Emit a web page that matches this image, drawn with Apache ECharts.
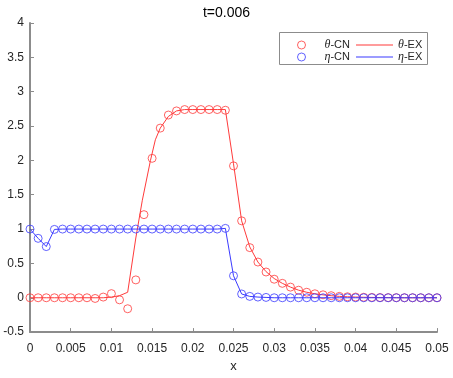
<!DOCTYPE html>
<html><head><meta charset="utf-8">
<script src="https://cdn.jsdelivr.net/npm/echarts@6/dist/echarts.min.js"></script>
<style>html,body{margin:0;padding:0;background:#fff}#c{width:453px;height:378px}</style>
</head><body><div id="c"></div>
<script>
var titleText = 't=0.006';
var xGrid = [0,0.001,0.002,0.003,0.004,0.005,0.006,0.007,0.008,0.009,0.010,0.011,0.012,0.013,0.014,0.015,0.016,0.017,0.018,0.019,0.020,0.021,0.022,0.023,0.024,0.025,0.026,0.027,0.028,0.029,0.030,0.031,0.032,0.033,0.034,0.035,0.036,0.037,0.038,0.039,0.040,0.041,0.042,0.043,0.044,0.045,0.046,0.047,0.048,0.049,0.050];
var thetaCN = [0,0,0,0,0,0,0,0,-0.01,0.01,0.06,-0.03,-0.16,0.26,1.21,2.03,2.47,2.66,2.72,2.74,2.74,2.74,2.74,2.74,2.73,1.92,1.12,0.73,0.52,0.375,0.27,0.21,0.155,0.11,0.08,0.058,0.043,0.03,0.02,0.014,0.01,0.007,0.005,0.003,0.002,0.001,0,0,0,0,0];
var etaCN = [1,0.865,0.745,0.995,1,1,1,1,1,1,1,1,1,1,1,1,1,1,1,1,1,1,1,1,1.01,0.32,0.055,0.02,0.01,0.005,0,0,0,0,0,0,0,0,0,0,0,0,0,0,0,0,0,0,0,0,0];
var thetaEXx = [0,0.001,0.002,0.003,0.004,0.005,0.006,0.007,0.008,0.009,0.010,0.011,0.012,0.013,0.0138,0.0148,0.0154,0.016,0.017,0.018,0.019,0.020,0.021,0.022,0.023,0.024,0.025,0.026,0.027,0.028,0.029,0.030,0.031,0.032,0.033,0.034,0.035,0.036,0.037,0.038,0.039,0.040,0.041,0.042,0.043,0.044,0.045,0.046,0.047,0.048,0.049,0.050];
var thetaEX = [0,0,0,0,0,0,0,0,0,0,0.01,0.03,0.08,0.87,1.42,2.0,2.3,2.47,2.64,2.72,2.74,2.74,2.74,2.74,2.74,2.74,1.95,1.12,0.74,0.52,0.38,0.28,0.21,0.155,0.11,0.08,0.058,0.042,0.03,0.02,0.014,0.01,0.007,0.005,0.003,0.002,0.001,0,0,0,0,0];
var etaEX = [1,0.865,0.745,0.995,1,1,1,1,1,1,1,1,1,1,1,1,1,1,1,1,1,1,1,1,1.01,0.32,0.055,0.02,0.01,0.005,0,0,0,0,0,0,0,0,0,0,0,0,0,0,0,0,0,0,0,0,0];
var seriesNames = ['θ-CN','θ-EX','η-CN','η-EX'];

function pairs(xs, ys){ return xs.map(function(x,i){ return [x, ys[i]]; }); }
var RED = '#ff3b3b', BLUE = '#3b3bff';
var FONT = '"Liberation Sans", Arial, sans-serif';
var legendText = {
  fontFamily: FONT, fontSize: 11, color: '#262626',
  rich: { i: { fontFamily: '"Liberation Serif", "DejaVu Serif", serif', fontStyle: 'italic', fontSize: 12, color: '#262626' },
          n: { fontFamily: FONT, fontSize: 11, color: '#262626' } }
};
function legFmt(name){ return '{i|' + name.charAt(0) + '}{n|' + name.slice(1) + '}'; }

var chart = echarts.init(document.getElementById('c'), null, {renderer:'canvas'});
chart.setOption({
  animation: false,
  backgroundColor: '#ffffff',
  title: { text: titleText, left: 'center', top: 1, textStyle: { fontFamily: FONT, fontSize: 14, fontWeight: 'normal', color: '#000' } },
  grid: { left: 30, right: 16, top: 23, bottom: 43, containLabel: false },
  graphic: [{ type: 'rect', shape: { x: 279.5, y: 32.5, width: 148, height: 32 }, style: { fill: '#fff', stroke: '#8c8c8c', lineWidth: 1 }, z: 0, zlevel: 0 }],
  legend: [
    { data: [seriesNames[0], seriesNames[2]], orient: 'vertical', left: 292, top: 34, itemWidth: 36, itemHeight: 8, itemGap: 0, formatter: legFmt, textStyle: legendText, itemStyle: { borderWidth: 1 }, z: 10 },
    { data: [seriesNames[1], seriesNames[3]], orient: 'vertical', left: 351, top: 34, icon: 'rect', itemWidth: 37, itemHeight: 1, itemGap: 0, formatter: legFmt, textStyle: legendText, z: 10 }
  ],
  xAxis: {
    type: 'value', min: 0, max: 0.05, interval: 0.005,
    name: 'x', nameLocation: 'middle', nameGap: 26,
    nameTextStyle: { fontFamily: FONT, fontSize: 13, color: '#262626' },
    axisLine: { onZero: false, lineStyle: { color: '#8c8c8c', width: 2 } },
    axisTick: { inside: true, length: 4, lineStyle: { color: '#8c8c8c' } },
    axisLabel: { margin: 11, fontFamily: FONT, fontSize: 12, color: '#262626', formatter: function(v){ return String(+v.toFixed(3)); } },
    splitLine: { show: false }
  },
  yAxis: {
    type: 'value', min: -0.5, max: 4, interval: 0.5,
    axisLine: { show: true, lineStyle: { color: '#8c8c8c', width: 2 } },
    axisTick: { show: true, inside: true, length: 4, lineStyle: { color: '#8c8c8c' } },
    axisLabel: { margin: 6, fontFamily: FONT, fontSize: 12, color: '#262626', formatter: function(v){ return String(+v.toFixed(1)); } },
    splitLine: { show: false }
  },
  series: [
    { name: seriesNames[0], type: 'scatter', data: pairs(xGrid, thetaCN), symbol: 'circle', symbolSize: 8,
      itemStyle: { color: 'rgba(0,0,0,0)', borderColor: RED, borderWidth: 1 }, z: 3 },
    { name: seriesNames[1], type: 'line', data: pairs(thetaEXx, thetaEX), showSymbol: false, symbol: 'none',
      lineStyle: { color: RED, width: 1 }, itemStyle: { color: RED }, z: 3 },
    { name: seriesNames[2], type: 'scatter', data: pairs(xGrid, etaCN), symbol: 'circle', symbolSize: 8,
      itemStyle: { color: 'rgba(0,0,0,0)', borderColor: BLUE, borderWidth: 1 }, z: 4 },
    { name: seriesNames[3], type: 'line', data: pairs(xGrid, etaEX), showSymbol: false, symbol: 'none',
      lineStyle: { color: BLUE, width: 1 }, itemStyle: { color: BLUE }, z: 4 }
  ]
});
</script></body></html>
